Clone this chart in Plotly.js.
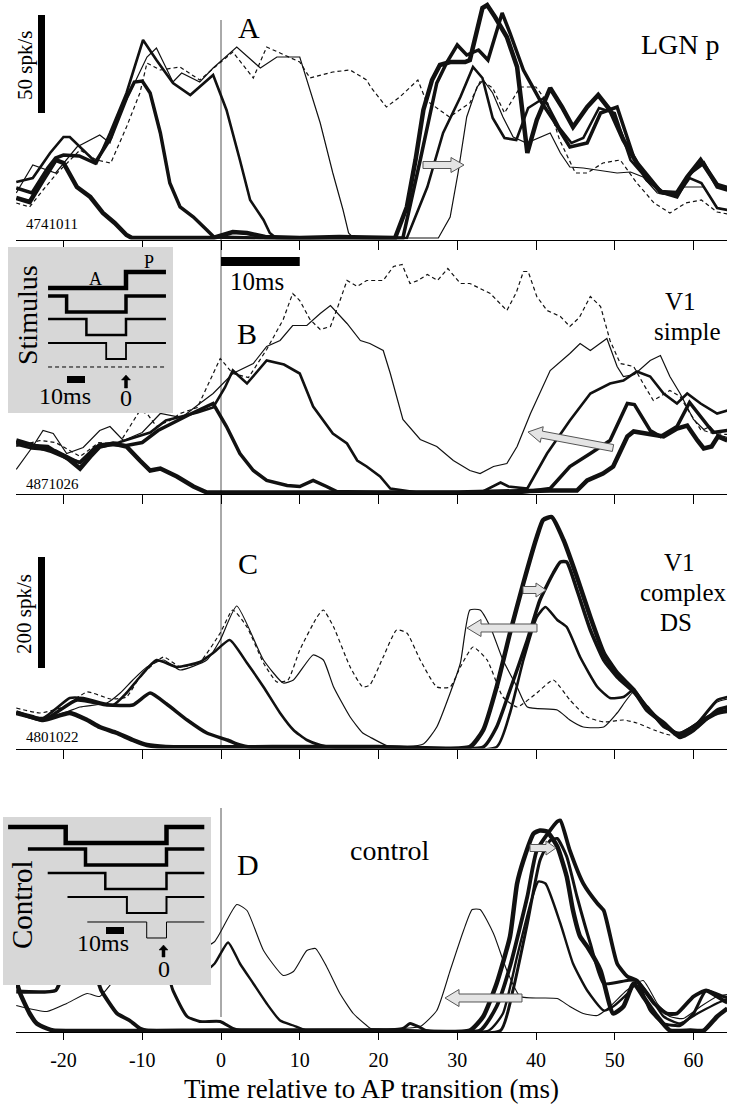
<!DOCTYPE html>
<html><head><meta charset="utf-8">
<script src="https://cdn.plot.ly/plotly-3.0.1.min.js"></script>
<style>html,body{margin:0;padding:0;background:#fff}#chart{width:737px;height:1104px}</style>
</head><body><div id="chart"></div>
<script>
// ---------------- DATA (time in ms, rate in panel units above baseline) ----------------
const tickValues = [-20,-10,0,10,20,30,40,50,60];
const tickLabels = ['-20','-10','0','10','20','30','40','50','60'];

// Panel A : LGN p
const A1t=[-26,-24.3,-22.6,-21,-20,-18.3,-16.6,-15,-13.5,-12,-11.3,-5,-1,1.5,3.3,5.6,10,15,19,22.1,23.6,24.7,25.7,26.8,27.8,29.1,31,31.6,33.2,33.8,34.8,36.3,37.6,38.9,40.1,41.8,43.3,44.7,46.5,47.9,49.4,51.1,52.8,54.5,55.8,57.9,59.2,60.9,63,64.3];
const A1v=[40,36,58,78,75,51,41,25,15,3,0,0,0,6,5,1,0,1,0,0,31,78,128,158,173,176,176,178,230,233,221,201,171,85,118,150,131,111,131,143,128,98,75,58,46,45,61,78,53,50];
const A2t=[-26,-24,-22,-21,-20,-18,-16,-14,-12,-11,-10,-9,-7.7,-6.5,-5.2,-3.5,-1.8,-0.9,5,15,20,23.1,25.3,27.4,28.7,30,31.2,32.7,33.9,35.7,36.7,38.4,40.5,42.2,44.3,46.5,48.2,50.3,52.4,54.1,56.2,57.9,59.6,61.3,63,64.3];
const A2v=[50,45,70,80,83,82,75,100,140,156,157,145,105,55,31,21,8,1,0,0,0,0,78,155,176,193,183,188,178,225,205,168,138,118,91,95,125,131,81,58,45,41,65,75,51,48];
const A3t=[-26,-23.9,-21.7,-20,-19.2,-17.5,-15.8,-14.1,-12,-9.9,-8.2,-6.1,-3.9,-1,0.7,2.4,3.7,5.4,6.2,7,15,20,23.6,26.2,28.2,30.4,32,33.2,34.5,36,37.5,39,41,43,44.5,46,48,50,52,54,56,58,59.5,61,63,64.3];
const A3v=[56,60,85,101,101,88,75,105,145,198,178,155,143,163,128,78,38,18,5,0,0,0,0,51,105,141,171,160,120,100,98,130,140,110,95,100,130,125,78,60,45,43,60,55,30,28];
const A4t=[-26,-23.9,-21,-18.3,-15.4,-14.1,-12.8,-11.2,-9.4,-8.2,-6.1,-5,-2.7,-1,2,5,7.1,10,10.9,12.6,14.2,15.5,16.2,16.8,27.6,29.1,30.1,31.2,32.5,33.3,34.5,35.8,37.1,38.8,41.8,43.1,44.3,46,50.3,52,53.6,55.4,57,58.7,61.3,63,64.3];
const A4v=[45,73,65,91,103,95,125,151,181,190,156,165,156,170,191,170,181,181,158,115,65,28,5,0,0,21,65,121,151,158,145,121,101,95,105,85,71,70,65,66,61,45,43,51,51,30,28];
const A5t=[-26,-24.3,-22.6,-20.8,-17.9,-15.8,-14,-12,-10.3,-9.4,-7.7,-5.2,-2.7,1.5,4.1,5.8,7.5,10,11.3,14.2,16.4,18.5,19,21,22.7,25,26,29,31.6,33,34.5,36,38,40,41.5,43,45,46.5,48.5,50.7,52.8,55,57,59,61,63,64.3];
const A5v=[35,31,48,65,88,78,75,111,145,175,168,171,158,186,160,191,185,176,160,166,168,158,151,131,141,158,138,121,135,158,150,125,151,151,135,98,65,65,75,78,55,35,25,35,38,26,24];

// Panel B : V1 simple
const B1t=[-26,-23.9,-21.7,-19.6,-17.9,-16.6,-15.4,-13.7,-12,-10.3,-9,-7.7,-5.6,-3.5,-1.8,10,20,30,41.8,45.2,46.5,48.5,49.8,51.6,52.4,54.1,56.2,57.9,59.2,60.5,61.3,62.3,63.1,64.3];
const B1v=[52,47,42,35,24,36,46,49,46,32,22,24,16,6,0,0,0,0,2,2,12,19,26,56,61,59,56,64,67,52,44,46,56,52];
const B2t=[-26,-24,-22,-19.6,-17.9,-16,-14,-12,-10,-8,-6,-4,-1,0.7,2.4,4.1,5.8,8.4,10,11.7,13.4,14.7,20,30,38,41.8,44.3,46.9,49.4,51.6,52.5,54.5,55.8,57.9,59.5,61,62.5,64.3];
const B2v=[50,47,46,34,30,45,48,47,50,62,70,78,89,66,39,22,12,7,6,12,6,1,0,0,0,4,26,39,52,89,88,62,56,66,90,75,60,62];
const B3t=[-26,-24,-21,-18,-15.5,-13,-11,-9,-7,-5,-3,-1,0.5,1.5,3.3,4.5,5.8,8,10,11.7,14.2,16,17.3,18.5,20.2,21.5,25,33,35.5,36.5,38.9,41.4,44.3,46.9,49.4,51.1,52.8,54.5,56.2,57.9,59.2,60.9,63,64.3];
const B3v=[48,44,42,30,48,50,55,60,72,76,80,85,105,122,109,120,132,128,119,86,59,49,32,26,16,4,0,0,10,6,4,39,72,99,109,112,121,116,99,89,99,89,79,82];
const B4t=[-26,-23.9,-22.6,-21.3,-19.6,-17.5,-15.4,-14.1,-12.4,-10,-7.7,-5,-2.7,-1,1.5,4.1,5.8,7.5,9.1,10.9,12.6,13.9,16,17.7,18.9,20.6,21.5,23.1,25.3,27.4,29.5,31.6,32.9,34.6,36.3,37.6,39.3,41.8,44.3,45.6,46.9,49,50.3,51.1,52.5,54.5,55.8,57,58.3,60,61.3,62.1,63,64.3];
const B4v=[23,46,62,59,39,45,62,66,52,60,79,75,89,99,119,129,146,152,167,167,179,187,169,152,149,142,119,73,53,46,32,22,19,26,29,46,79,122,139,149,142,154,126,116,118,132,137,116,99,73,63,66,58,55];
const B5t=[-26,-23,-21,-17.9,-15.5,-13,-10.3,-9.3,-8.2,-6.5,-5.2,-3,-0.1,1.5,3.5,5.8,7.9,9.1,10,11.3,12.6,13.9,14.8,16,17.3,18.5,20.6,21.9,23,24,25,26.2,27.5,28.8,30.4,31.6,32.9,34.2,36.3,37.5,38.4,39,40.1,41.4,43.1,44.3,45.5,46.9,48.2,49.4,50.7,52.4,53.6,54.9,57,58.3,59.5,60.9,62.5,64.3];
const B5v=[46,52,50,36,50,48,82,78,66,72,79,85,134,119,115,143,173,199,192,173,163,166,185,212,206,212,212,226,228,209,212,218,212,224,209,209,204,199,182,200,221,221,196,182,176,166,175,196,186,152,129,126,109,92,102,96,80,63,59,58];

// Panel C : V1 complex DS
const C1t=[-26,-24,-22.6,-19.2,-17,-15.4,-13.2,-11.2,-9.4,-7,10,20,31.6,33.3,35,36.7,38.4,40.1,40.9,42,43.5,45.2,46.9,48.6,50.3,52.4,54.1,56.2,58.3,60,61.3,63,64.3];
const C1v=[34,30,27,34,27,20,14,7,2,0,0,0,0,17,60,114,164,210,227,230,207,170,130,94,74,57,37,24,10,17,27,34,36];
const C2t=[-26,-22.6,-18.3,-14.5,-11.2,-9,-6.9,-4.3,-1.8,0.8,2.4,3.6,20,33.3,35,36.7,38.9,40.5,42.2,43.1,43.9,45.2,46.9,48.6,50.3,52.4,54.1,56.2,58.3,60.5,63,64.3];
const C2v=[35,27,47,42,42,54,43,27,14,7,2,0,0,0,20,57,107,147,174,185,185,157,117,87,70,55,40,22,12,20,37,40];
const C3t=[-26,-22.6,-19.2,-17.5,-13.7,-12,-10.3,-8.2,-5.6,-2.7,-1,1.1,3.3,5.4,7.5,9.2,10.9,12.6,14,20,35,36.7,38.4,40.1,41.2,42.7,43.9,45.6,47.8,49.4,51.1,52.4,54.1,56.2,58.3,60.5,63,64.3];
const C3v=[34,29,49,49,42,54,70,87,80,85,94,107,84,60,34,17,7,2,0,0,0,34,87,130,140,127,120,90,60,49,50,57,40,20,14,24,47,50];
const C4t=[-26,-23.9,-22.1,-19.6,-17.9,-14.5,-12.8,-11.2,-9.4,-7.3,-5.2,-1.8,-0.1,2,5.4,7.9,9.2,11.7,13,14.3,16.4,18,18.9,21.5,25.7,27.4,29.1,30.4,31.6,32.9,34.2,35.8,37.6,38.9,42.7,44.3,46,48.6,50.3,52.4,54.1,56.2,57.9,59.6,61.3,63,64.3];
const C4v=[34,30,29,35,40,44,54,67,80,87,77,87,107,141,87,64,67,92,87,60,30,14,10,0,3,20,54,84,137,137,120,87,60,40,37,27,20,20,34,55,40,20,14,20,30,45,48];
const C5t=[-26,-23,-20,-17,-14,-12,-10.3,-7.3,-5.2,-2.7,-0.1,1.5,3.3,5.4,7.1,8.5,10,12.2,13,14.3,16.4,18,18.9,20.6,22.3,23.6,25.3,27.4,29.1,30.4,32,33.8,35.8,37.6,40.1,42.2,44.3,46.5,48.6,51.1,52.8,55,57,59,61,63,64.3];
const C5v=[39,34,40,55,48,50,70,90,80,85,114,137,120,84,65,67,97,130,137,120,80,60,62,90,117,114,87,60,60,80,100,87,50,40,54,67,47,30,25,27,24,17,12,15,25,34,36];

// Panel D : control
const D1t=[-26,-25.5,-24.3,-23.4,-22.1,-21.3,0,20,31.6,33.3,35,36.7,37.6,38.4,39.7,40.5,41.4,42.7,43.9,44.7,45.6,46.5,48.2,49.8,51.1,52.4,53.6,55.4,57,59.6,61.3,63,64.3];
const D1v=[50,37,17,7,2,0,0,0,0,14,47,94,147,170,197,200,199,184,154,120,94,84,60,17,24,47,34,14,0,0,0,14,22];
const D2t=[-26,-21,-20,-16,-15.2,-13.2,-11.6,-10.3,-9.5,20,32.9,35,36.7,38.9,40.1,42.7,43.1,44.3,46,47.8,48.6,50.3,51.6,52.8,55,56.6,57.9,60,61.6,63.8,64.3];
const D2v=[39,40,55,55,40,17,10,2,0,0,0,24,64,134,180,209,210,180,147,127,120,67,54,50,27,17,17,34,40,30,28];
const D3t=[-26,-7,-6.1,-4.3,-2.7,-0.1,1.5,2.5,20,23.1,24,25.3,26,35.5,37.1,38.9,40.5,41.8,42.7,43.9,45.2,46.9,48.6,51.6,52.8,54.5,56.2,58.3,60,61.6,63.8,64.3];
const D3v=[60,58,40,14,9,9,2,0,0,2,7,3,0,0,41,107,170,190,192,174,134,87,47,50,50,20,7,5,17,40,34,33];
const D4t=[-26,-2,-0.8,0.9,2.4,4.1,5.8,7.5,9.2,10.9,20,34,35.8,37.6,39.3,40.3,41.2,43.1,44.7,46.5,48.6,49.8,52,52.8,54.5,56.2,58.3,60.5,63.8,64.3];
const D4v=[60,60,67,88,67,47,27,10,5,0,0,0,17,74,127,149,147,107,67,40,20,24,40,50,34,14,7,17,30,31];
const D5t=[-26,-22.1,-19.6,-17,-15.4,-13,-8,-3,-0.8,2,3.3,5.4,7.9,9.2,10.9,12,13.4,15.1,16.8,18.5,19,23,25.3,27.4,29.1,30.8,31.9,32.9,34.6,36.3,38,42.7,44.3,46,47.8,49.4,51.5,53.6,55.4,57,58.7,60.9,63,64.3];
const D5v=[25,19,27,37,34,55,70,80,89,126,120,80,55,59,80,82,64,37,17,5,2,2,4,20,60,100,121,121,97,60,34,32,24,17,15,24,40,50,27,14,12,24,34,36];

// Stimulus schematics (ms relative to A->P transition)
const stimLineStartMs = -43.3, stimLineEndMs = 22.2;
const stimAOnsetMs = [-44, -33, -22, -11, null];
const ctrlLineStartMs = [-88, -77, -66, -55, -44], ctrlLineEndMs = 21;
const ctrlAOnsetMs = [-56, -45, -34, -22, -11];

// ---------------- LAYOUT HELPERS ----------------
const FONT = '"Liberation Serif", "Times New Roman", serif';
const W=737, H=1104, ML=16, MR=10, MT=0, MB=72;
const PW=W-ML-MR, PH=H-MT-MB;
const X = px => (px-ML)/PW;
const Y = py => (H-MB-py)/PH;
const XR = [(16-221)/7.875, (727-221)/7.875];

const panels = [
  {s:'',  top:0,   bottom:239.5, zero:238,   smooth:false, data:[[A1t,A1v],[A2t,A2v],[A3t,A3v],[A4t,A4v],[A5t,A5v]], widths:[4.5,3.5,2.6,1.2,1.2], dashed:[0,0,0,0,1]},
  {s:'2', top:250, bottom:494,   zero:492.5, smooth:false, data:[[B1t,B1v],[B2t,B2v],[B3t,B3v],[B4t,B4v],[B5t,B5v]], widths:[4.5,3.5,2.6,1.2,1.2], dashed:[0,0,0,0,1]},
  {s:'3', top:505, bottom:748.5, zero:747,   smooth:true,  data:[[C1t,C1v],[C2t,C2v],[C3t,C3v],[C4t,C4v],[C5t,C5v]], widths:[4.5,3.5,2.6,1.2,1.2], dashed:[0,0,0,0,1]},
  {s:'4', top:790, bottom:1032,  zero:1030.5,smooth:true,  data:[[D1t,D1v],[D2t,D2v],[D3t,D3v],[D4t,D4v],[D5t,D5v]], widths:[4.5,3.8,3,2.4,1.1], dashed:[0,0,0,0,0]}
];

const traces = [];
const layout = {
  width:W, height:H, margin:{l:ML,r:MR,t:MT,b:MB},
  paper_bgcolor:'#fff', plot_bgcolor:'rgba(0,0,0,0)', showlegend:false,
  font:{family:FONT, color:'#000'}, shapes:[], annotations:[]
};

panels.forEach((p,i)=>{
  const last = i===panels.length-1;
  layout['xaxis'+p.s] = {
    domain:[0,1], range:XR, anchor:'y'+p.s, showline:true, linecolor:'#000', linewidth:1,
    ticks:'outside', ticklen: last?7:9, tickwidth:1, tickcolor:'#000',
    tickmode:'array', tickvals:tickValues, ticktext:tickLabels,
    showticklabels:last, showgrid:false, zeroline:false, fixedrange:true,
    tickfont:{family:FONT,size:20,color:'#000'}
  };
  if(last){
    layout['xaxis'+p.s].ticklabelstandoff = 3;
    layout['xaxis'+p.s].title = {text:'Time relative to AP transition (ms)', font:{family:FONT,size:27,color:'#000'}, standoff:13};
  }
  layout['yaxis'+p.s] = {domain:[Y(p.bottom), Y(p.top)], range:[-(p.bottom-p.zero), p.zero-p.top], anchor:'x'+p.s, visible:false, fixedrange:true};
  for(let k=p.data.length-1;k>=0;k--){
    const ln = {color:'#111', width:p.widths[k], dash:p.dashed[k]?'4px,3px':'solid'};
    if(p.smooth){ ln.shape='spline'; ln.smoothing=0.5; }
    traces.push({x:p.data[k][0], y:p.data[k][1], xaxis:'x'+p.s, yaxis:'y'+p.s, type:'scatter', mode:'lines',
      line:ln, hoverinfo:'skip'});
  }
});

const S = layout.shapes, AN = layout.annotations;
function rectPx(x0,y0,x1,y1,color,layer){S.push({type:'rect',xref:'paper',yref:'paper',x0:X(x0),x1:X(x1),y0:Y(y1),y1:Y(y0),fillcolor:color,line:{width:0},layer:layer||'above'});}
function pathPx(pts,close,opts){
  const d='M '+pts.map(q=>X(q[0]).toFixed(5)+','+Y(q[1]).toFixed(5)).join(' L ')+(close?' Z':'');
  S.push(Object.assign({type:'path',xref:'paper',yref:'paper',path:d,layer:'above'},opts));
}
function ann(text,px,py,size,extra){AN.push(Object.assign({text:text,xref:'paper',yref:'paper',x:X(px),y:Y(py),xanchor:'center',yanchor:'middle',showarrow:false,font:{family:FONT,size:size,color:'#000'}},extra||{}));}
function blockArrow(x1,y1,x2,y2,bw,hw,hl){
  const dx=x2-x1, dy=y2-y1, L=Math.hypot(dx,dy), ux=dx/L, uy=dy/L, nx=-uy, ny=ux, n=L-hl;
  const pts=[[x1+nx*bw,y1+ny*bw],[x1+ux*n+nx*bw,y1+uy*n+ny*bw],[x1+ux*n+nx*hw,y1+uy*n+ny*hw],[x2,y2],
             [x1+ux*n-nx*hw,y1+uy*n-ny*hw],[x1+ux*n-nx*bw,y1+uy*n-ny*bw],[x1-nx*bw,y1-ny*bw]];
  pathPx(pts,true,{fillcolor:'#e4e4e4',line:{color:'#555',width:1}});
}
function upArrow(cx,topPy,botPy){
  pathPx([[cx-1.5,botPy],[cx-1.5,topPy+5],[cx-4.5,topPy+5],[cx,topPy],[cx+4.5,topPy+5],[cx+1.5,topPy+5],[cx+1.5,botPy]],true,{fillcolor:'#000',line:{color:'#000',width:0.5}});
}
function stepRow(startMs,onsetMs,endMs,zeroPx,pxPerMs,topPy,step,width,dash){
  const P=ms=>zeroPx+ms*pxPerMs;
  let pts;
  if(onsetMs===null) pts=[[P(startMs),topPy],[P(endMs),topPy]];
  else if(onsetMs<=startMs) pts=[[P(startMs),topPy+step],[P(0),topPy+step],[P(0),topPy],[P(endMs),topPy]];
  else pts=[[P(startMs),topPy],[P(onsetMs),topPy],[P(onsetMs),topPy+step],[P(0),topPy+step],[P(0),topPy],[P(endMs),topPy]];
  pathPx(pts,false,{line:{color:'#000',width:width,dash:dash||'solid'}});
}

// vertical reference line at t=0
S.push({type:'line',xref:'x',yref:'paper',x0:0,x1:0,y0:Y(748),y1:Y(20),line:{color:'#555',width:1},layer:'below'});
S.push({type:'line',xref:'x4',yref:'paper',x0:0,x1:0,y0:Y(1017),y1:Y(808),line:{color:'#555',width:1},layer:'below'});

// scale bars
rectPx(38,15,45,113,'#000');
rectPx(38,557,45,668,'#000');
S.push({type:'rect',xref:'x',yref:'paper',x0:0,x1:10,y0:Y(266),y1:Y(257),fillcolor:'#000',line:{width:0},layer:'above'});

// block arrows
blockArrow(423,165,464,165,3.5,7.5,13);
blockArrow(613,448,528,432,3.5,8,14);
blockArrow(537,628,467,628,4,8.5,14);
blockArrow(523,590,546,590,3.5,7,10);
blockArrow(522,998,445,998,4,8.5,14);
blockArrow(530,848,556,848,3.5,7,10);

// Stimulus inset (panel B)
rectPx(8,247,173,413,'#d7d7d7');
const stimRowTop=[272,296,319,343,367], stimW=[4.5,3.5,2.5,1.8,1];
stimAOnsetMs.forEach((on,r)=>stepRow(stimLineStartMs,on,stimLineEndMs,126,1.8,stimRowTop[r],16,stimW[r],on===null?'4px,3px':'solid'));
rectPx(67,376,85,383,'#000');
upArrow(126,375,388);
ann('Stimulus',27,315,28,{textangle:-90});
ann('A',95,279,18); ann('P',149,262,18);
ann('10ms',65,396,24); ann('0',126,398,24);

// Control inset (panel D)
rectPx(3,817,211,985,'#d7d7d7');
const ctrlRowTop=[827,849,873,897,922], ctrlW=[4.5,3.5,2.5,2,1];
ctrlAOnsetMs.forEach((on,r)=>stepRow(ctrlLineStartMs[r],on,ctrlLineEndMs,166.5,1.8,ctrlRowTop[r],16,ctrlW[r]));
rectPx(106,927,124,934,'#000');
upArrow(163.5,945,957);
ann('Control',22,905,29,{textangle:-90});
ann('10ms',103,943,24); ann('0',164,969,24);

// labels
ann('A',249,27,30); ann('B',247,333,30); ann('C',248,563,30); ann('D',248,865,30);
ann('LGN p',680,45,28);
ann('V1',680,302,25); ann('simple',687,331,25);
ann('V1',679,562,25); ann('complex',683,592,25); ann('DS',676,622,25);
ann('control',390,850,28);
ann('50 spk/s',25,66,21,{textangle:-90});
ann('200 spk/s',24,614,21,{textangle:-90});
ann('10ms',257,281,25);
ann('4741011',52,224,15); ann('4871026',52,484,15); ann('4801022',52,737,15);

Plotly.newPlot('chart', traces, layout, {staticPlot:true, displayModeBar:false});
</script></body></html>
